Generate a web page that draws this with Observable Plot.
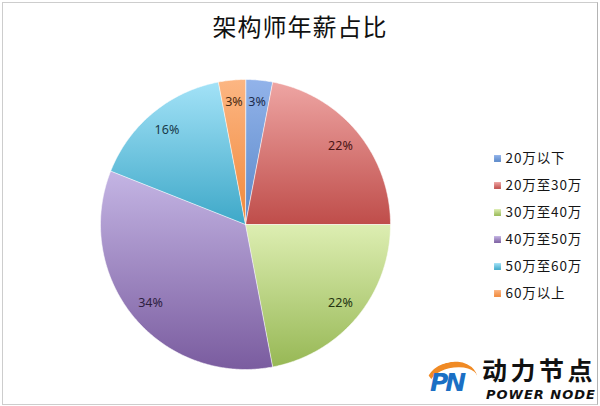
<!DOCTYPE html>
<html>
<head>
<meta charset="utf-8">
<script src="https://cdn.jsdelivr.net/npm/d3@7"></script>
<script src="https://cdn.jsdelivr.net/npm/@observablehq/plot@0.6"></script>
<style>
  body { margin: 0; background: #fff; }
  #wrap { position: relative; width: 600px; height: 406px; overflow: hidden; background: #fff;
          font-family: "Noto Sans CJK SC", "Noto Sans", sans-serif; }
  #frame { position: absolute; left: 2px; top: 2px; width: 596px; height: 403px;
           border: 1px solid #cdcdcd; border-right-color: #b4b4b4; box-sizing: border-box; }
  #title { position: absolute; left: 0; top: 10px; width: 600px; text-align: center;
           font-size: 24px; line-height: 32px; color: #111; letter-spacing: 1px; }
  #pie { position: absolute; left: 95px; top: 74px; }
  #legend { position: absolute; left: 487px; top: 145px; letter-spacing: 0.9px; }
  #brand { position: absolute; left: 422px; top: 352px; width: 178px; height: 52px; white-space: nowrap; }
  #brand .swoosh { position: absolute; left: 4px; top: 10px; width: 52px; height: 40px;
                   border-radius: 50%; border-top: 6px solid #f08a24; border-left: 3px solid transparent;
                   box-sizing: border-box; transform: rotate(-12deg); }
  #brand .pn { position: absolute; left: 8px; top: 16px; font: italic bold 25px "DejaVu Sans", sans-serif;
               color: #1b6fc4; letter-spacing: -3px; }
  #brand .cn { position: absolute; left: 60px; top: 5px; font: bold 25px "Noto Sans CJK SC", sans-serif;
               color: #111; letter-spacing: 3.5px; line-height: 25px; }
  #brand .en { position: absolute; left: 64px; top: 36px; font: italic bold 13px "DejaVu Sans", sans-serif;
               color: #111; line-height: 13px; letter-spacing: 1px; }
</style>
</head>
<body>
<!-- slice gradients (top light, bottom deep) -->
<svg width="0" height="0" style="position:absolute">
  <defs id="grads"></defs>
</svg>
<div id="wrap">
  <div id="frame"></div>
  <div id="title">架构师年薪占比</div>
  <div id="pie"></div>
  <div id="legend"></div>
  <div id="brand">
    <div class="swoosh"></div>
    <div class="pn">PN</div>
    <div class="cn">动力节点</div>
    <div class="en">POWER NODE</div>
  </div>
</div>
<script>
// Salary bands and their share of architects (%)
const categories = ["20万以下", "20万至30万", "30万至40万", "40万至50万", "50万至60万", "60万以上"];
const shares = [3, 22, 22, 34, 16, 3];

// Palette: gradient top / bottom per band, and label ink
const gradTop    = ["#92b3ea", "#eea5a3", "#ddeeb2", "#c4b5e4", "#a3e2f7", "#fcb683"];
const gradBottom = ["#5a88c8", "#bf4d4a", "#97b855", "#7a5c9f", "#3ea8c8", "#f0883a"];
const labelInk   = ["#1d2c4c", "#4a1515", "#243410", "#2d2040", "#183a4a", "#4a2a10"];

// Build the linear gradients
const defs = d3.select("#grads");
categories.forEach((c, i) => {
  const g = defs.append("linearGradient").attr("id", "g" + i)
    .attr("x1", 0).attr("y1", 0).attr("x2", 0).attr("y2", 1);
  g.append("stop").attr("offset", "0%").attr("stop-color", gradTop[i]);
  g.append("stop").attr("offset", "100%").attr("stop-color", gradBottom[i]);
});
const paint = i => `url(#g${i})`;

const rows = categories.map((c, i) => ({cat: c, share: shares[i], i}));
const arcs = d3.pie().sort(null).value(d => d.share)(rows);

// Each wedge as a closed outline: centre, arc (clockwise from 12 o'clock), back to centre
const outline = [];
for (const a of arcs) {
  const steps = Math.max(2, Math.ceil((a.endAngle - a.startAngle) / (Math.PI / 360)));
  outline.push({i: a.data.i, x: 0, y: 0});
  for (let k = 0; k <= steps; ++k) {
    const t = a.startAngle + (a.endAngle - a.startAngle) * k / steps;
    outline.push({i: a.data.i, x: Math.sin(t), y: Math.cos(t)});
  }
}

const labelR = 0.85;
const labels = arcs.map(a => {
  const m = (a.startAngle + a.endAngle) / 2;
  return {i: a.data.i, share: a.data.share, x: labelR * Math.sin(m), y: labelR * Math.cos(m)};
});

const pie = Plot.plot({
  width: 300, height: 300,
  marginLeft: 5, marginRight: 5, marginTop: 5, marginBottom: 5,
  x: {domain: [-1, 1], axis: null},
  y: {domain: [-1, 1], axis: null},
  color: {type: "identity"},
  style: {background: "transparent", overflow: "visible"},
  marks: [
    Plot.line(outline, {
      x: "x", y: "y", z: "i",
      fill: d => paint(d.i),
      stroke: "#ffffff", strokeOpacity: 0.55, strokeWidth: 1,
      curve: "linear-closed"
    }),
    Plot.text(labels, {
      x: "x", y: "y",
      text: d => d.share + "%",
      fill: d => labelInk[d.i],
      fontSize: 12.5,
      fontFamily: "Noto Sans, sans-serif"
    })
  ]
});
document.getElementById("pie").append(pie);

const legend = Plot.plot({
  width: 110, height: 160,
  margin: 0,
  x: {domain: [0, 1], range: [10, 100], axis: null},
  y: {type: "point", domain: categories, range: [13, 148], padding: 0, axis: null},
  color: {type: "identity"},
  style: {background: "transparent", overflow: "visible"},
  marks: [
    Plot.dot(categories, {x: () => 0, y: d => d, symbol: "square", r: 3.9, fill: (d, i) => paint(i), stroke: null}),
    Plot.text(categories, {
      x: () => 0, y: d => d, dx: 8, text: d => d,
      textAnchor: "start", fontSize: 13.5, fill: "#151515",
      fontFamily: "Noto Sans CJK SC, sans-serif"
    })
  ]
});
document.getElementById("legend").append(legend);
</script>
</body>
</html>
